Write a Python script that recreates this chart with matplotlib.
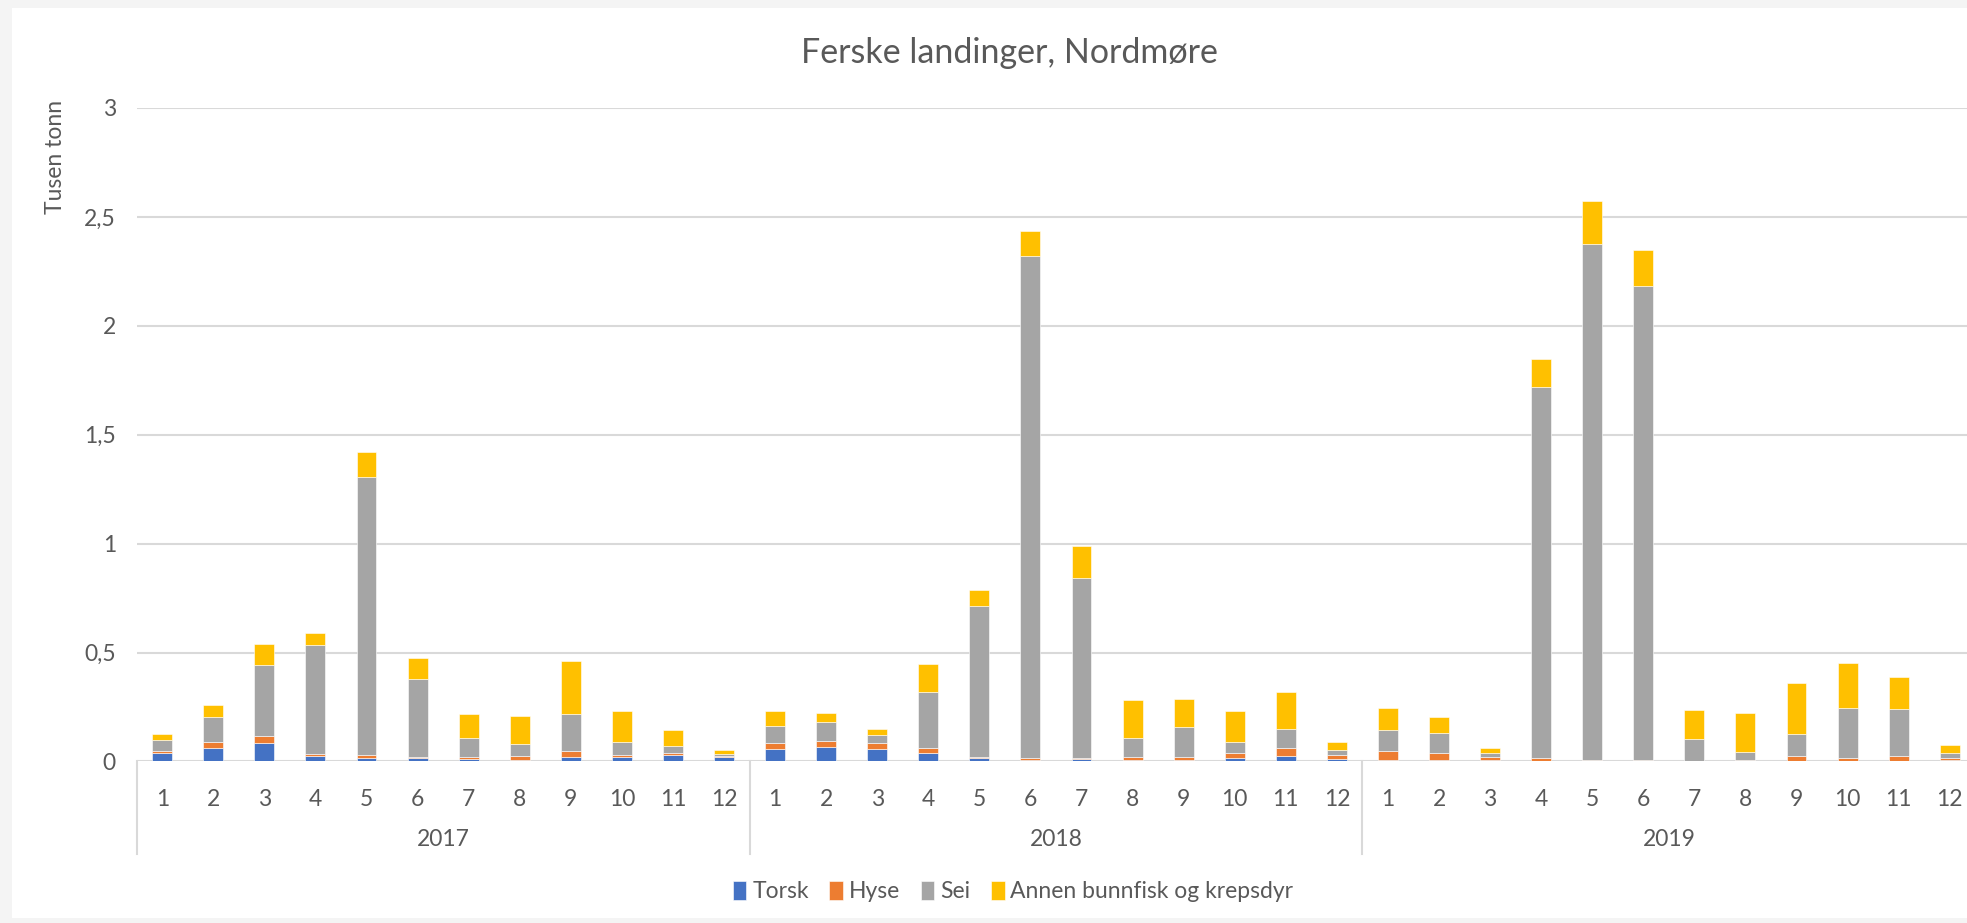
import numpy as np
import matplotlib.pyplot as plt
import matplotlib.transforms as mtransforms
from matplotlib.patches import Rectangle

plt.rcParams['font.family'] = ['Lato', 'DejaVu Sans']

# Data (tusen tonn), Jan-Dec for 2017, 2018, 2019
years = ['2017', '2018', '2019']
months = [str(m) for m in range(1, 13)] * 3

torsk = [0.040, 0.064, 0.086, 0.026, 0.018, 0.017, 0.011, 0.006, 0.021, 0.020, 0.031, 0.021,
         0.055, 0.067, 0.055, 0.040, 0.015, 0.008, 0.011, 0.008, 0.006, 0.017, 0.026, 0.011,
         0.009, 0.009, 0.008, 0.004, 0.002, 0.002, 0.002, 0.002, 0.003, 0.003, 0.003, 0.005]
hyse = [0.010, 0.025, 0.032, 0.008, 0.013, 0.004, 0.009, 0.017, 0.028, 0.011, 0.007, 0.002,
        0.029, 0.029, 0.028, 0.024, 0.006, 0.007, 0.006, 0.012, 0.015, 0.023, 0.034, 0.020,
        0.041, 0.028, 0.012, 0.012, 0.004, 0.004, 0.002, 0.004, 0.020, 0.015, 0.023, 0.013]
sei = [0.048, 0.113, 0.325, 0.503, 1.275, 0.357, 0.090, 0.058, 0.168, 0.059, 0.031, 0.011,
       0.080, 0.083, 0.039, 0.253, 0.692, 2.304, 0.823, 0.089, 0.135, 0.050, 0.090, 0.021,
       0.095, 0.096, 0.017, 1.705, 2.369, 2.175, 0.100, 0.037, 0.104, 0.228, 0.217, 0.022]
annen = [0.026, 0.056, 0.098, 0.055, 0.115, 0.096, 0.110, 0.128, 0.243, 0.141, 0.075, 0.020,
         0.070, 0.044, 0.029, 0.129, 0.076, 0.115, 0.150, 0.174, 0.133, 0.141, 0.168, 0.037,
         0.100, 0.072, 0.023, 0.126, 0.197, 0.167, 0.131, 0.179, 0.231, 0.205, 0.144, 0.035]

series = [('Torsk', torsk, '#4472C4'),
          ('Hyse', hyse, '#ED7D31'),
          ('Sei', sei, '#A5A5A5'),
          ('Annen bunnfisk og krepsdyr', annen, '#FFC000')]

text_col = '#595959'
grid_col = '#D9D9D9'
fs = 16.5

fig = plt.figure(figsize=(19.67, 9.23), dpi=100, facecolor='#F4F4F4')
# white chart area inside the light screenshot margin
fig.patches.append(Rectangle((12 / 1967, 5 / 923), 1 - 12 / 1967, 1 - 13 / 923,
                             transform=fig.transFigure, facecolor='white',
                             edgecolor='none', zorder=-10))

ax = fig.add_axes([0.0695, 0.175, 0.9347, 0.708])
ax.set_facecolor('none')

x = np.arange(len(months))
bottom = np.zeros(len(months))
for name, vals, col in series:
    ax.bar(x, vals, width=0.39, bottom=bottom, color=col, label=name,
           edgecolor='white', linewidth=0.4, zorder=3)
    bottom += np.array(vals)

ax.set_xlim(-0.5, len(months) - 0.5)
ax.set_ylim(0, 3)
ax.set_yticks(np.arange(0, 3.01, 0.5))
ax.set_yticklabels(['0', '0,5', '1', '1,5', '2', '2,5', '3'])
ax.yaxis.grid(True, color=grid_col, linewidth=1.5, zorder=0)
ax.set_axisbelow(True)
for s in ax.spines.values():
    s.set_visible(False)

ax.set_xticks(x)
ax.set_xticklabels(months)
ax.tick_params(axis='x', length=0, pad=20, labelsize=fs, labelcolor=text_col)
ax.tick_params(axis='y', length=0, pad=15, labelsize=fs, labelcolor=text_col)

# year level of the category axis
trans = mtransforms.blended_transform_factory(ax.transData, ax.transAxes)
for i, yr in enumerate(years):
    ax.text(i * 12 + 5.5, -0.12, yr, transform=trans, ha='center', va='center',
            fontsize=fs, color=text_col)
for b in [-0.5, 11.5, 23.5]:
    ax.plot([b, b], [0, -0.1415], transform=trans, color=grid_col,
            linewidth=1.5, clip_on=False)

ax.text(-0.044, 0.925, 'Tusen tonn', transform=ax.transAxes, rotation=90,
        ha='center', va='center', fontsize=fs, color=text_col)

fig.text(0.513, 0.943, 'Ferske landinger, Nordmøre', ha='center', va='center',
         fontsize=24.5, color=text_col)

leg = fig.legend(loc='center', bbox_to_anchor=(0.515, 0.034), ncol=4, frameon=False,
                 fontsize=fs, handlelength=0.6, handleheight=0.9, handletextpad=0.25,
                 columnspacing=0.9)
for t in leg.get_texts():
    t.set_color(text_col)

fig.savefig('out.png', dpi=100, facecolor=fig.get_facecolor())
